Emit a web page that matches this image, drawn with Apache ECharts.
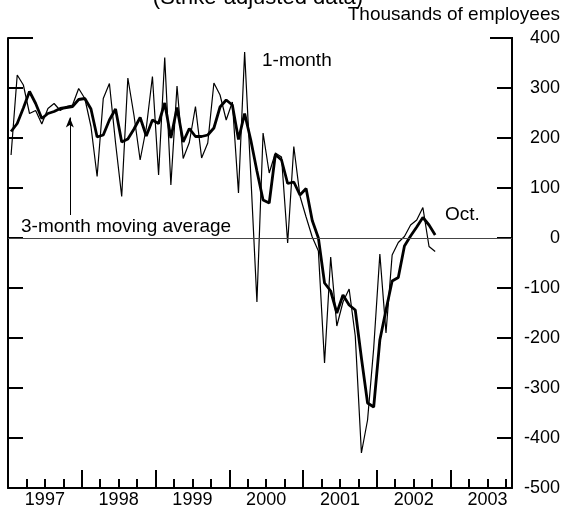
<!DOCTYPE html>
<html>
<head>
<meta charset="utf-8">
<script src="https://cdn.jsdelivr.net/npm/echarts@6/dist/echarts.min.js"></script>
<style>
  html, body { margin: 0; padding: 0; background: #fff; }
  #chart { width: 563px; height: 510px; }
</style>
</head>
<body>
<div id="chart"></div>
<script>
// months Jan 1997 .. Oct 2002
const months = [];
for (let y = 1997; y <= 2002; y++) {
    for (let m = 1; m <= 12; m++) {
        if (y === 2002 && m > 10) break;
        months.push(y + '-' + String(m).padStart(2, '0'));
    }
}

const years = ['1997', '1998', '1999', '2000', '2001', '2002', '2003'];

// 1-month change, thousands
const oneMonth = [
    166, 326, 306, 249, 255, 228, 259, 269, 255, 263, 266, 299,
    279, 223, 123, 279, 309, 190, 83, 320, 245, 156, 220, 323,
    126, 361, 106, 304, 159, 191, 263, 160, 190, 310, 286, 236,
    272, 90, 372, 126, -128, 210, 130, 170, 162, -10, 183, 84,
    42, 2, -26, -250, -38, -176, -128, -102, -196, -430, -364, -220,
    -32, -190, -34, -9, 3, 26, 36, 61, -17, -27
];

// 3-month moving average, thousands
const threeMonth = [
    213, 229, 260, 293, 269, 239, 249, 253, 259, 261, 263, 277,
    279, 258, 202, 206, 236, 258, 192, 198, 218, 241, 204, 236,
    229, 270, 200, 261, 192, 219, 203, 203, 206, 220, 262, 276,
    266, 197, 249, 196, 134, 76, 70, 167, 156, 109, 112, 86,
    99, 35, 0, -90, -106, -150, -114, -134, -144, -240, -330, -338,
    -204, -144, -86, -79, -16, 4, 22, 41, 26, 6
];

const font = "'Liberation Sans', Arial, sans-serif";
const chart = echarts.init(document.getElementById('chart'));

// x in months since Jan 1997, points at mid-month
const toPoints = arr => arr.map((v, i) => [i + 0.5, v]);

const yAxisBase = {
    type: 'value',
    min: -500,
    max: 400,
    interval: 100,
    axisLine: {show: true, lineStyle: {color: '#000', width: 2}},
    axisTick: {show: true, inside: true, length: 15, lineStyle: {color: '#000', width: 2}},
    splitLine: {show: false}
};

chart.setOption({
    animation: false,
    grid: {left: 8, top: 38, width: 505.3, height: 450},
    xAxis: {
        type: 'value',
        min: 0,
        max: 82,
        interval: 12,
        axisLine: {show: true, onZero: false, lineStyle: {color: '#000', width: 2}},
        axisTick: {show: true, inside: true, length: 18, lineStyle: {color: '#000', width: 2}},
        minorTick: {show: true, splitNumber: 4, length: 9, lineStyle: {color: '#000', width: 2}},
        splitLine: {show: false},
        axisLabel: {
            customValues: years.map((y, i) => i * 12 + 6),
            formatter: v => years[Math.floor(v / 12)],
            color: '#000',
            fontFamily: font,
            fontSize: 18,
            margin: 3
        }
    },
    yAxis: [
        Object.assign({}, yAxisBase, {position: 'left', axisLabel: {show: false}}),
        Object.assign({}, yAxisBase, {
            position: 'right',
            axisLabel: {
                show: true,
                align: 'right',
                margin: 48,
                color: '#000',
                fontFamily: font,
                fontSize: 18
            }
        })
    ],
    series: [
        {
            name: '1-month',
            type: 'line',
            data: toPoints(oneMonth),
            symbol: 'none',
            lineStyle: {color: '#000', width: 1.2},
            markLine: {
                silent: true,
                symbol: 'none',
                label: {show: false},
                lineStyle: {color: '#444', width: 1, type: 'solid'},
                data: [{yAxis: 0}]
            }
        },
        {
            name: '3-month moving average',
            type: 'line',
            data: toPoints(threeMonth),
            symbol: 'none',
            lineStyle: {color: '#000', width: 2.8},
            markLine: {
                silent: true,
                symbol: ['none', 'arrow'],
                symbolSize: [6, 10],
                label: {show: false},
                lineStyle: {color: '#000', width: 1, type: 'solid'},
                data: [[{coord: [10.06, 46]}, {coord: [10.06, 241]}]]
            }
        }
    ],
    graphic: [
        {type: 'text', x: 258, y: -2, style: {text: '(Strike-adjusted data)', font: '22px ' + font, fill: '#000', align: 'center', verticalAlign: 'middle'}},
        {type: 'text', x: 560, y: 15, style: {text: 'Thousands of employees', font: '19px ' + font, fill: '#000', align: 'right', verticalAlign: 'middle'}},
        {type: 'text', x: 262, y: 61, style: {text: '1-month', font: '19px ' + font, fill: '#000', align: 'left', verticalAlign: 'middle'}},
        {type: 'text', x: 21, y: 227, style: {text: '3-month moving average', font: '19px ' + font, fill: '#000', align: 'left', verticalAlign: 'middle'}},
        {type: 'text', x: 445, y: 215, style: {text: 'Oct.', font: '19px ' + font, fill: '#000', align: 'left', verticalAlign: 'middle'}},
        {type: 'line', shape: {x1: 8, y1: 38, x2: 33, y2: 38}, style: {stroke: '#000', lineWidth: 2}},
        {type: 'line', shape: {x1: 490, y1: 38, x2: 513, y2: 38}, style: {stroke: '#000', lineWidth: 2}}
    ]
});
</script>
</body>
</html>
